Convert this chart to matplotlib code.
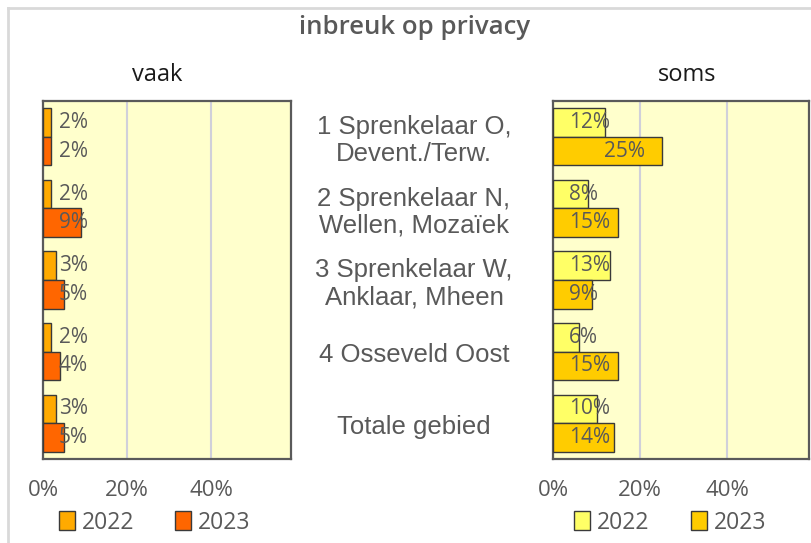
import numpy as np
import matplotlib.pyplot as plt
from matplotlib.patches import Patch
from matplotlib.lines import Line2D

categories = [
    "1 Sprenkelaar O,\nDevent./Terw.",
    "2 Sprenkelaar N,\nWellen, Mozaïek",
    "3 Sprenkelaar W,\nAnklaar, Mheen",
    "4 Osseveld Oost",
    "Totale gebied",
]
years = ["2022", "2023"]
vaak_2022 = [2, 2, 3, 2, 3]
vaak_2023 = [2, 9, 5, 4, 5]
soms_2022 = [12, 8, 13, 6, 10]
soms_2023 = [25, 15, 9, 15, 14]
xticks = [0, 20, 40]

grey = "#595959"
bg = "#FFFFCC"
edge = "#3a3a3a"
num_font = "Open Sans"

fig = plt.figure(figsize=(8.11, 5.43), dpi=100)

# light chart-area frame along the top and left
fig.add_artist(Line2D([8 / 811, 8 / 811], [0, 1 - 8 / 543], color="#D9D9D9", lw=2))
fig.add_artist(Line2D([8 / 811, 1], [1 - 8 / 543, 1 - 8 / 543], color="#D9D9D9", lw=2))

ax_l = fig.add_axes([43 / 811, 84 / 543, 248 / 811, 358 / 543])
ax_r = fig.add_axes([553 / 811, 84 / 543, 256 / 811, 358 / 543])

y = np.arange(len(categories))
h = 0.4


def draw_panel(ax, v22, v23, c22, c23, xmax, label_pos, leg_x):
    ax.set_facecolor(bg)
    ax.barh(y - h / 2, v22, height=h, color=c22, edgecolor=edge, linewidth=1, zorder=3)
    ax.barh(y + h / 2, v23, height=h, color=c23, edgecolor=edge, linewidth=1, zorder=3)
    for i in range(len(y)):
        for v, yy in ((v22[i], y[i] - h / 2), (v23[i], y[i] + h / 2)):
            ax.text(label_pos(v), yy, f"{v}%", ha="left", va="center",
                    fontsize=15, color=grey, family=num_font, zorder=4)
    ax.set_xlim(0, xmax)
    ax.set_ylim(len(y) - 0.5, -0.5)
    ax.set_yticks([])
    ax.set_xticks(xticks)
    ax.set_xticklabels([f"{t}%" for t in xticks], fontsize=16, color=grey, family=num_font)
    ax.tick_params(axis="x", length=0, pad=15)
    ax.grid(axis="x", color="#D0D0DA", lw=1.5, zorder=1)
    for s in ax.spines.values():
        s.set_color("#5a5a5a")
        s.set_linewidth(1.6)
    ax.legend(handles=[Patch(facecolor=c22, edgecolor=edge, label=years[0]),
                       Patch(facecolor=c23, edgecolor=edge, label=years[1])],
              loc="center", bbox_to_anchor=(leg_x, -0.178), ncol=2, frameon=False,
              handlelength=0.7, handleheight=0.9, handletextpad=0.3, columnspacing=1.8,
              prop={"family": num_font, "size": 16.5}, labelcolor=grey)


draw_panel(ax_l, vaak_2022, vaak_2023, "#FFAA00", "#FF6600", 59,
           lambda v: 3.8, 0.45)
draw_panel(ax_r, soms_2022, soms_2023, "#FFFF66", "#FFCC00", 58.7,
           lambda v: max(3.6, v - 13.3), 0.457)

# category names between the two panels
for i, name in enumerate(categories):
    yy = ax_l.transData.transform((0, y[i] + 0.05))[1]
    fig.text(414 / 811, yy / fig.bbox.height, name, ha="center", va="center",
             fontsize=18.5, color=grey, family="Liberation Sans", linespacing=1.15)

fig.text(415 / 811, 1 - 28 / 543, "inbreuk op privacy", ha="center", va="center",
         fontsize=18.5, color=grey, family="Open Sans", fontweight="semibold")
fig.text(157 / 811, 1 - 75 / 543, "vaak", ha="center", va="center",
         fontsize=17, color="#1a1a1a", family=num_font)
fig.text(687 / 811, 1 - 75 / 543, "soms", ha="center", va="center",
         fontsize=17, color="#1a1a1a", family=num_font)

fig.savefig("out.png", dpi=100)
